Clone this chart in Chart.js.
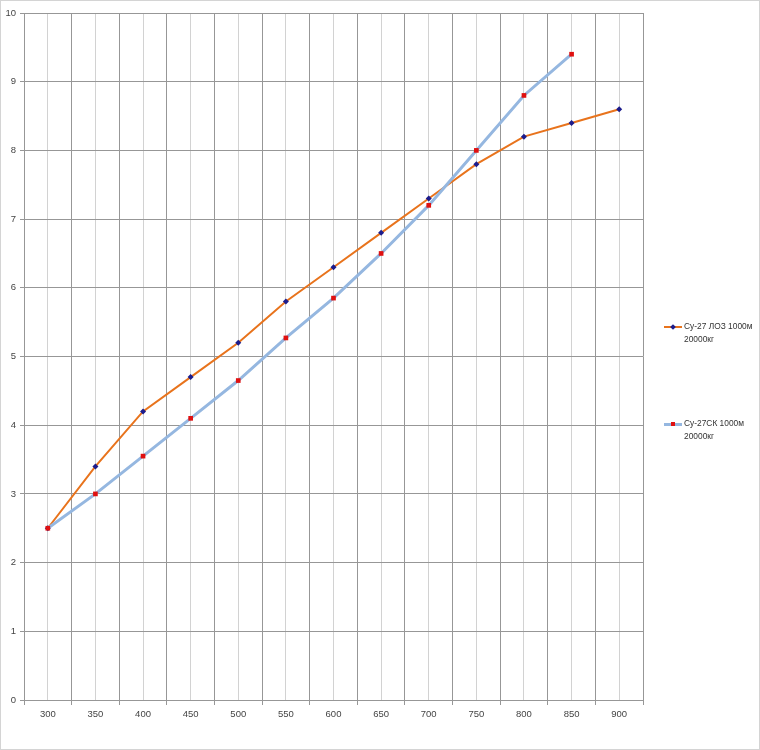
<!DOCTYPE html>
<html>
<head>
<meta charset="utf-8">
<script src="https://cdn.jsdelivr.net/npm/chart.js@4"></script>
<style>
body { margin: 0; background: #fff; }
#wrap { position: relative; width: 758px; height: 748px; border: 1px solid #d4d4d4; }
#legend { position: absolute; left: 663px; top: 0; font-family: "Liberation Sans", "DejaVu Sans", sans-serif; font-size: 8.4px; color: #333; }
.item { position: absolute; left: 0; width: 100px; }
.sample { position: absolute; left: 0; width: 18px; }
.mark { position: absolute; }
.txt { position: absolute; left: 20px; top: 0; line-height: 13px; white-space: nowrap; }
</style>
</head>
<body>
<div id="wrap">
  <canvas id="chart" width="758" height="748"></canvas>
  <div id="legend"></div>
</div>
<script>
//data
const speeds = [300, 350, 400, 450, 500, 550, 600, 650, 700, 750, 800, 850, 900];
const loz_values = [2.5, 3.4, 4.2, 4.7, 5.2, 5.8, 6.3, 6.8, 7.3, 7.8, 8.2, 8.4, 8.6];
const sk_values = [2.5, 3.0, 3.55, 4.1, 4.65, 5.27, 5.85, 6.5, 7.2, 8.0, 8.8, 9.4, null];
const series_names = [['Су-27 ЛОЗ 1000м', '20000кг'], ['Су-27СК 1000м', '20000кг']];

const orange = '#E8731C';
const blue = '#95B7E0';

function to_points(values)
{
    return speeds.map((s, i) => ({x: s, y: values[i]}));
}

//legend in html because the items sit far apart
function make_legend()
{
    const legend = document.getElementById('legend');
    const rows = [
        {top: 319, line: orange, lw: 2, mark: '#1c1c8c', rot: true},
        {top: 416, line: blue, lw: 3, mark: '#e01010', rot: false}
    ];
    rows.forEach((r, i) => {
        let div = document.createElement('div');
        div.className = 'item';
        div.style.top = r.top + 'px';
        let mark_style = r.rot
            ? 'left:7px;top:5px;width:4px;height:4px;transform:rotate(45deg);'
            : 'left:7px;top:5px;width:4px;height:4px;';
        div.innerHTML =
            '<div class="sample" style="height:' + r.lw + 'px;background:' + r.line + ';top:' + (7 - r.lw / 2) + 'px"></div>' +
            '<div class="mark" style="' + mark_style + 'background:' + r.mark + '"></div>' +
            '<div class="txt">' + series_names[i].join('<br>') + '</div>';
        legend.appendChild(div);
    });
}

const ctx = document.getElementById('chart');
new Chart(ctx, {
    type: 'line',
    data: {
        datasets: [
            {
                label: series_names[0].join(' '),
                data: to_points(loz_values),
                borderColor: orange,
                borderWidth: 2,
                pointStyle: 'rectRot',
                pointRadius: 3,
                pointBackgroundColor: '#1c1c8c',
                pointBorderColor: '#1c1c8c',
                pointBorderWidth: 0,
                tension: 0,
                order: 2
            },
            {
                label: series_names[1].join(' '),
                data: to_points(sk_values),
                borderColor: blue,
                borderWidth: 3,
                pointStyle: 'rect',
                pointRadius: 3.3,
                pointBackgroundColor: '#e01010',
                pointBorderColor: '#e01010',
                pointBorderWidth: 0,
                tension: 0,
                spanGaps: false,
                order: 1
            }
        ]
    },
    options: {
        responsive: false,
        animation: false,
        layout: {padding: {left: 0, right: 116, top: 12, bottom: 0}},
        plugins: {legend: {display: false}, tooltip: {enabled: false}},
        scales: {
            x: {
                type: 'linear',
                min: 275,
                max: 925,
                afterFit: scale => { scale.height = 49; },
                ticks: {
                    stepSize: 25,
                    autoSkip: false,
                    maxRotation: 0,
                    padding: 4,
                    color: '#444',
                    font: {family: 'Liberation Sans', size: 9.5},
                    callback: v => (v % 50 === 0 ? String(v) : '')
                },
                grid: {
                    color: c => (c.tick && c.tick.value % 50 === 0 ? '#d2d2d2' : '#979797'),
                    tickColor: c => (c.tick && c.tick.value % 50 === 0 ? 'rgba(0,0,0,0)' : '#979797'),
                    tickLength: 5
                },
                border: {color: '#979797'}
            },
            y: {
                min: 0,
                max: 10,
                afterFit: scale => { scale.width = 23; },
                ticks: {
                    stepSize: 1,
                    padding: 4,
                    color: '#444',
                    font: {family: 'Liberation Sans', size: 9.5}
                },
                grid: {color: '#979797', tickLength: 4, tickColor: '#979797'},
                border: {color: '#979797'}
            }
        }
    }
});

make_legend();
</script>
</body>
</html>
